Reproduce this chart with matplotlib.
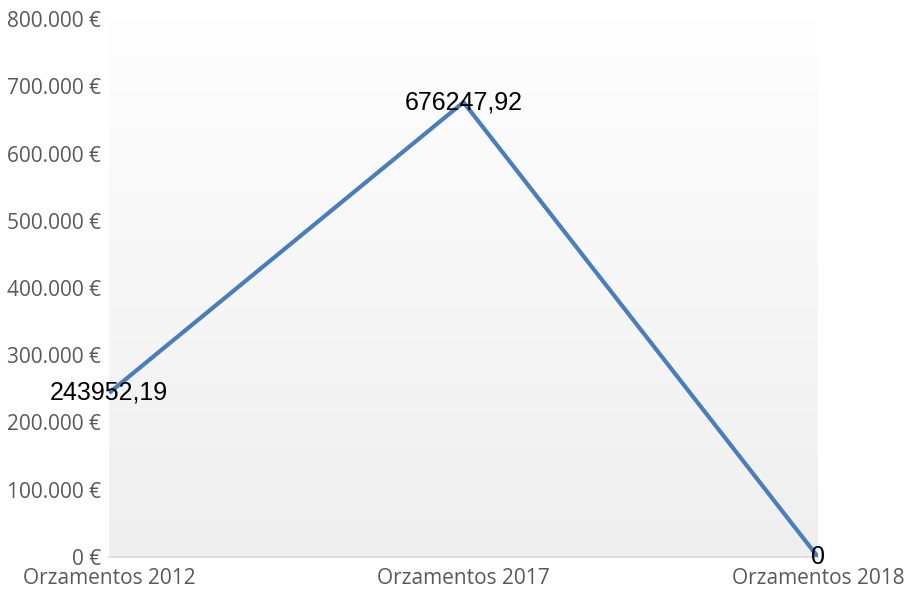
import numpy as np
import matplotlib
matplotlib.use("Agg")
import matplotlib.pyplot as plt
from matplotlib.ticker import FuncFormatter
from matplotlib.colors import LinearSegmentedColormap

# Data
categories = ["Orzamentos 2012", "Orzamentos 2017", "Orzamentos 2018"]
values = [243952.19, 676247.92, 0]
value_labels = ["243952,19", "676247,92", "0"]
y_ticks = [0, 100000, 200000, 300000, 400000, 500000, 600000, 700000, 800000]

fig = plt.figure(figsize=(9.1, 5.9), dpi=100)
ax = fig.add_axes([109 / 910, 33 / 590, (818 - 109) / 910, (557 - 19) / 590])

x = np.arange(len(categories))
ax.set_xlim(0, len(categories) - 1)
ax.set_ylim(0, 800000)

# Plot area gradient (white at top -> light grey at bottom)
cmap = LinearSegmentedColormap.from_list("bg", ["#efefef", "#fefefe"])
grad = np.linspace(0, 1, 256).reshape(-1, 1)
ax.imshow(grad, extent=(0, len(categories) - 1, 0, 800000), origin="lower",
          aspect="auto", cmap=cmap, zorder=0)

ax.plot(x, values, color="#4a7ebb", linewidth=3, zorder=3, solid_capstyle="butt")

for xi, v, lab in zip(x, values, value_labels):
    ax.text(xi, v, lab, ha="center", va="center", fontsize=18,
            family="Liberation Sans", color="black", zorder=4)

# Axes styling
for side in ["left", "right", "top"]:
    ax.spines[side].set_visible(False)
ax.spines["bottom"].set_color("#d9d9d9")
ax.spines["bottom"].set_linewidth(1.2)

ax.set_yticks(y_ticks)
ax.yaxis.set_major_formatter(FuncFormatter(lambda v, p: f"{int(v):,} €".replace(",", ".")))
ax.set_xticks(x)
ax.set_xticklabels(categories)
ax.tick_params(axis="both", length=0, labelsize=15, labelcolor="#595959")
ax.tick_params(axis="y", pad=6)
ax.tick_params(axis="x", pad=8)
for lab in ax.get_xticklabels() + ax.get_yticklabels():
    lab.set_family("Open Sans")

fig.savefig("out.png", dpi=100)
